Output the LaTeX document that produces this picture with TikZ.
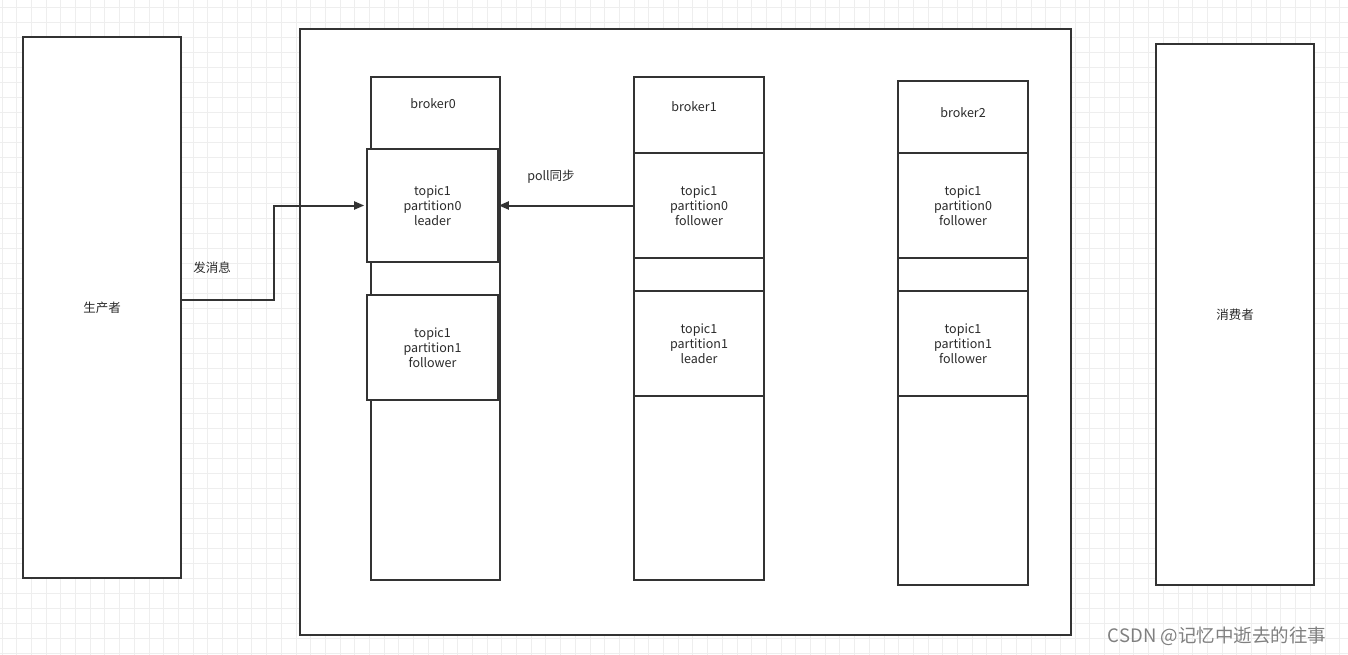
\documentclass[tikz,border=0pt]{standalone}
\usepackage{fontspec}
\setmainfont{Noto Sans CJK SC}
\usetikzlibrary{arrows.meta}

\definecolor{lineclr}{HTML}{333333}
\definecolor{gridclr}{HTML}{EEEEEE}
\definecolor{txtclr}{HTML}{2A2A2A}

\tikzset{
  box/.style={draw=lineclr, line width=1.6pt, fill=white, rectangle, inner sep=0pt},
  lbl/.style={text=txtclr, font=\fontsize{12.5}{15}\selectfont, align=center},
  conn/.style={lineclr, line width=2pt, -{Triangle[length=10pt,width=8pt]}},
}

\begin{document}
\begin{tikzpicture}[x=1pt, y=-1pt]
			\useasboundingbox (0,0) rectangle (1348,655);
			\fill[white] (0,0) rectangle (1348,655);
			%%%%%%%%%%%%%%%%%%%%%%%%%%%%%%%% grid
			\foreach \gx in {2,16.7,...,1348} \draw[gridclr, line width=1pt] (\gx,0) -- (\gx,655);
			\foreach \gy in {8,23,...,655} \draw[gridclr, line width=1pt] (0,\gy) -- (1348,\gy);
			%%%%%%%%%%%%%%%%%%%%%%%%%%%%%%%% producer / consumer
			\node[box, minimum width=158pt, minimum height=541pt] (producer) at (102,307.5) {};
			\node[lbl] at (producer) {生产者};
			\node[box, minimum width=158pt, minimum height=541pt] (consumer) at (1235,314.5) {};
			\node[lbl] at (consumer) {消费者};
			%%%%%%%%%%%%%%%%%%%%%%%%%%%%%%%% cluster
			\node[box, minimum width=771pt, minimum height=606pt] (cluster) at (685.5,332) {};
			%%%%%%%%%%%%%%%%%%%%%%%%%%%%%%%% brokers
			\node[box, minimum width=129pt, minimum height=503pt] (broker0) at (435.5,328.5) {};
			\node[box, minimum width=130pt, minimum height=503pt] (broker1) at (699,328.5) {};
			\node[box, minimum width=130pt, minimum height=504pt] (broker2) at (963,333) {};
			\node[lbl] (name0) at (433,104) {broker0};
			\node[lbl] (name1) at (694,107) {broker1};
			\node[lbl] (name2) at (963,113) {broker2};
			%%%%%%%%%%%%%%%%%%%%%%%%%%%%%%%% partitions
			\node[box, lbl, minimum width=131pt, minimum height=113pt] (b0p0) at (432.5,205.5) {topic1\\partition0\\leader};
			\node[box, lbl, minimum width=131pt, minimum height=105pt] (b0p1) at (432.5,347.5) {topic1\\partition1\\follower};
			\node[box, lbl, minimum width=130pt, minimum height=105pt] (b1p0) at (699,205.5) {topic1\\partition0\\follower};
			\node[box, lbl, minimum width=130pt, minimum height=105pt] (b1p1) at (699,343.5) {topic1\\partition1\\leader};
			\node[box, lbl, minimum width=130pt, minimum height=105pt] (b2p0) at (963,205.5) {topic1\\partition0\\follower};
			\node[box, lbl, minimum width=130pt, minimum height=105pt] (b2p1) at (963,343.5) {topic1\\partition1\\follower};
			%%%%%%%%%%%%%%%%%%%%%%%%%%%%%%%% connectors
			\draw[conn] ([yshift=7.5pt]producer.east) -- ++(92,0) |- ([xshift=-2pt]b0p0.west);
			\node[lbl] (send) at (212,268) {发消息};
			\draw[conn] (b1p0.west) -- (b0p0.east);
			\node[lbl] (poll) at (551,177) {poll同步};
			%%%%%%%%%%%%%%%%%%%%%%%%%%%%%%%% watermark
			\node[text=gray, font=\fontsize{18.5}{20}\selectfont] (mark) at (1217,636) {CSDN @记忆中逝去的往事};
		\end{tikzpicture}
\end{document}
